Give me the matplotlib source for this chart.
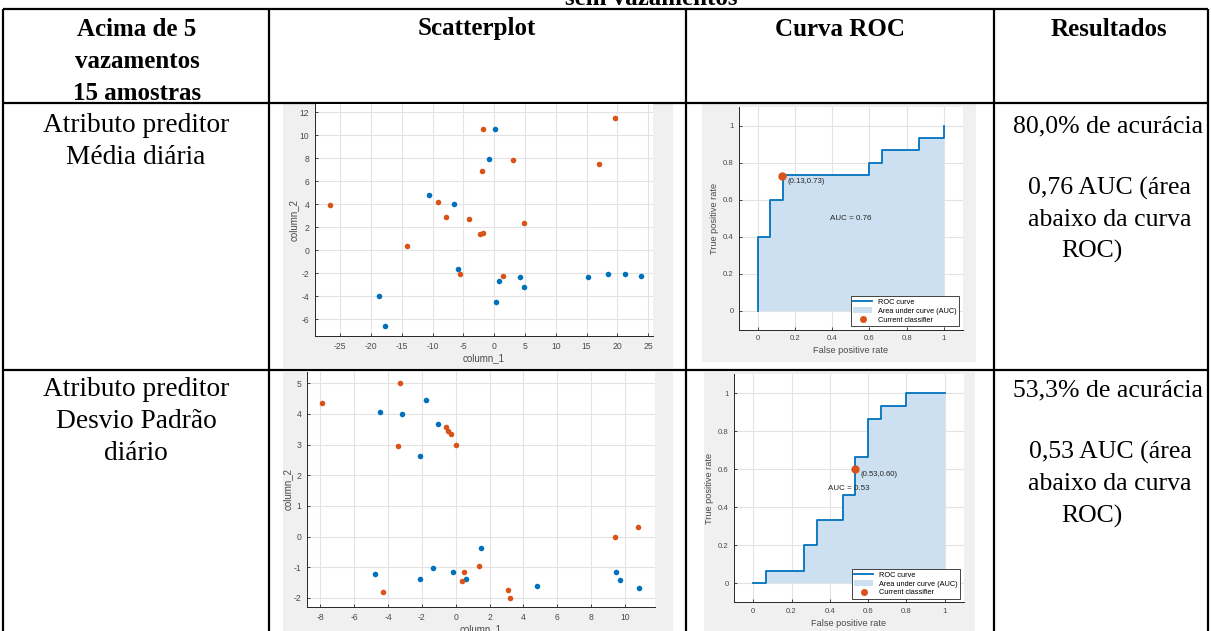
import numpy as np
import matplotlib
matplotlib.use("Agg")
import matplotlib.pyplot as plt
from matplotlib.lines import Line2D
from matplotlib.patches import Patch, Rectangle

plt.rcParams["axes.unicode_minus"] = False

W, H = 1211, 631

""" DATA """
# scatter, media diaria (column_1, column_2)
media_orange_x = [-26.6, -14.2, -9.1, -7.9, -4.1, -5.6, -2.3, -1.8, -2.0, -1.8, 3.1, 4.8, 1.5, 17.0, 19.7]
media_orange_y = [3.9, 0.4, 4.2, 2.9, 2.7, -2.1, 1.4, 1.5, 6.9, 10.5, 7.8, 2.4, -2.2, 7.5, 11.5]
media_blue_x = [-10.6, -6.6, -5.9, -18.7, -17.8, -0.8, 0.1, 0.8, 0.3, 4.2, 4.9, 15.3, 18.5, 21.3, 23.9]
media_blue_y = [4.8, 4.0, -1.6, -4.0, -6.6, 7.9, 10.5, -2.7, -4.5, -2.3, -3.2, -2.3, -2.1, -2.1, -2.2]

# scatter, desvio padrao diario
desvio_orange_x = [-7.9, -3.3, -3.4, -0.6, -0.45, -0.3, 0.0, -4.3, 0.4, 0.5, 1.4, 3.1, 3.2, 9.4, 10.8]
desvio_orange_y = [4.36, 5.0, 2.95, 3.57, 3.45, 3.36, 2.99, -1.82, -1.45, -1.17, -0.96, -1.73, -1.99, -0.03, 0.32]
desvio_blue_x = [-4.45, -3.17, -1.75, -1.04, -2.1, -4.79, -2.14, -1.33, -0.17, 0.62, 1.51, 4.82, 9.5, 9.69, 10.86]
desvio_blue_y = [4.08, 4.01, 4.45, 3.66, 2.63, -1.21, -1.40, -1.03, -1.17, -1.37, -0.38, -1.63, -1.17, -1.43, -1.67]

# ROC curves (15 positivos / 15 negativos)
roc1_fpr = [0, 0, 1/15, 1/15, 2/15, 2/15, 9/15, 9/15, 10/15, 10/15, 13/15, 13/15, 1, 1]
roc1_tpr = [0, 6/15, 6/15, 9/15, 9/15, 11/15, 11/15, 12/15, 12/15, 13/15, 13/15, 14/15, 14/15, 1]
roc1_point = (0.13, 0.73)
roc1_auc = 0.76

roc2_fpr = [0, 1/15, 1/15, 4/15, 4/15, 5/15, 5/15, 7/15, 7/15, 8/15, 8/15, 9/15, 9/15, 10/15, 10/15, 12/15, 12/15, 1]
roc2_tpr = [0, 0, 1/15, 1/15, 3/15, 3/15, 5/15, 5/15, 7/15, 7/15, 10/15, 10/15, 13/15, 13/15, 14/15, 14/15, 1, 1]
roc2_point = (0.53, 0.60)
roc2_auc = 0.53

BLUE = "#0072BD"
ORANGE = "#D95319"
FILL = "#cce0f1"
IMG_BG = "#f0f0f0"
TXT = "#4a4a4a"


def rect(x0, y0, x1, y1):
    # pixel box (top-left origin) -> figure fraction
    return [x0 / W, 1 - y1 / H, (x1 - x0) / W, (y1 - y0) / H]


fig = plt.figure(figsize=(W / 100, H / 100), dpi=100)
fig.patch.set_facecolor("white")

# table canvas in pixel coordinates
tab = fig.add_axes([0, 0, 1, 1])
tab.set_xlim(0, W)
tab.set_ylim(H, 0)
tab.axis("off")

# gray image backgrounds
for (x0, y0, x1, y1) in [(283, 104, 673, 368), (702, 104, 976, 362),
                         (283, 372, 673, 631), (704, 372, 975, 631)]:
    tab.add_patch(Rectangle((x0, y0), x1 - x0, y1 - y0, facecolor=IMG_BG, edgecolor="none"))

lw = 1.6
for x in [3, 269, 686, 994, 1208]:
    tab.plot([x, x], [9, H + 5], color="black", lw=lw, solid_capstyle="butt")
for y in [9, 103, 370]:
    tab.plot([3, 1208], [y, y], color="black", lw=lw, solid_capstyle="butt")

serif = "Liberation Serif"
# caption of the table, cut at the top edge as in the original page
tab.text(651, 5, "sem vazamentos", ha="center", va="baseline", fontsize=18,
         fontweight="bold", family=serif)

for txt, y in [("Acima de 5", 30), ("vazamentos", 62), ("15 amostras", 93)]:
    tab.text(137, y, txt, ha="center", va="center", fontsize=18, fontweight="bold", family=serif)
for txt, x in [("Scatterplot", 477), ("Curva ROC", 840), ("Resultados", 1109)]:
    tab.text(x, 29, txt, ha="center", va="center", fontsize=18, fontweight="bold", family=serif)

for txt, y in [("Atributo preditor", 126), ("Média diária", 158)]:
    tab.text(136, y, txt, ha="center", va="center", fontsize=19.7, family=serif)
for txt, y in [("Atributo preditor", 390), ("Desvio Padrão", 422), ("diário", 454)]:
    tab.text(136, y, txt, ha="center", va="center", fontsize=19.7, family=serif)

for txt, x, y in [("80,0% de acurácia", 1108, 126), ("0,76 AUC (área", 1110, 188),
                  ("abaixo da curva", 1110, 220), ("ROC)", 1092, 251),
                  ("53,3% de acurácia", 1108, 390), ("0,53 AUC (área", 1110, 452),
                  ("abaixo da curva", 1110, 484), ("ROC)", 1092, 516)]:
    tab.text(x, y, txt, ha="center", va="center", fontsize=18.5, family=serif)

sans = "Liberation Sans"


def style_axes(ax, tick_fs):
    ax.set_facecolor("white")
    for s in ["top", "right"]:
        ax.spines[s].set_visible(False)
    for s in ["left", "bottom"]:
        ax.spines[s].set_color("#262626")
        ax.spines[s].set_linewidth(0.7)
    ax.grid(True, color="#e3e3e3", lw=0.8)
    ax.set_axisbelow(True)
    ax.tick_params(direction="in", length=2.5, width=0.6, colors="#262626",
                   labelcolor=TXT, labelsize=tick_fs, pad=4)
    for lab in ax.get_xticklabels() + ax.get_yticklabels():
        lab.set_family(sans)


""" SCATTERPLOTS """
sc1 = fig.add_axes(rect(315, 104, 653, 336))
sc1.scatter(media_blue_x, media_blue_y, s=16, color=BLUE, zorder=3, linewidths=0)
sc1.scatter(media_orange_x, media_orange_y, s=16, color=ORANGE, zorder=3, linewidths=0)
sc1.set_xlim(-29.1, 25.8)
sc1.set_ylim(-7.45, 12.7)
sc1.set_xticks(np.arange(-25, 26, 5))
sc1.set_yticks(np.arange(-6, 13, 2))

sc2 = fig.add_axes(rect(307, 372, 655, 607))
sc2.scatter(desvio_blue_x, desvio_blue_y, s=16, color=BLUE, zorder=3, linewidths=0)
sc2.scatter(desvio_orange_x, desvio_orange_y, s=16, color=ORANGE, zorder=3, linewidths=0)
sc2.set_xlim(-8.79, 11.78)
sc2.set_ylim(-2.3, 5.37)
sc2.set_xticks(np.arange(-8, 11, 2))
sc2.set_yticks(np.arange(-2, 6, 1))

for ax in [sc1, sc2]:
    style_axes(ax, 6.2)
    ax.set_xlabel("column_1", fontsize=7, family=sans, color=TXT, labelpad=2)
    ax.set_ylabel("column_2", fontsize=7, family=sans, color=TXT, labelpad=1)

""" ROC CURVES """
roc_ticks = [0, 0.2, 0.4, 0.6, 0.8, 1]
roc_labels = ["0", "0.2", "0.4", "0.6", "0.8", "1"]


def draw_roc(ax, fpr, tpr, point, auc):
    ax.fill_between(fpr, tpr, 0, color=FILL, lw=0, zorder=2)
    ax.plot(fpr, tpr, color=BLUE, lw=1.3, zorder=3)
    ax.plot(point[0], point[1], "o", color=ORANGE, ms=5, zorder=4)
    ax.annotate(f"({point[0]:.2f},{point[1]:.2f})", point, xytext=(4, -4),
                textcoords="offset points", fontsize=5.6, family=sans, color="#262626",
                va="center", ha="left", zorder=5)
    ax.text(0.5, 0.5, f"AUC = {auc:.2f}", ha="center", va="center", fontsize=5.8,
            family=sans, color="#262626", zorder=5)
    ax.set_xlim(-0.1, 1.1)
    ax.set_ylim(-0.1, 1.1)
    ax.set_xticks(roc_ticks)
    ax.set_xticklabels(roc_labels)
    ax.set_yticks(roc_ticks)
    ax.set_yticklabels(roc_labels)
    style_axes(ax, 5.6)
    ax.set_xlabel("False positive rate", fontsize=6.6, family=sans, color=TXT, labelpad=3)
    ax.set_ylabel("True positive rate", fontsize=6.6, family=sans, color=TXT, labelpad=3)
    handles = [Line2D([], [], color=BLUE, lw=1.3),
               Patch(facecolor=FILL, edgecolor="none"),
               Line2D([], [], color=ORANGE, marker="o", ls="none", ms=4)]
    leg = ax.legend(handles, ["ROC curve", "Area under curve (AUC)", "Current classifier"],
                    loc="lower right", prop={"family": sans, "size": 5.3}, fancybox=False,
                    framealpha=1, edgecolor="#262626", borderpad=0.3, labelspacing=0.15,
                    handlelength=2.6, handleheight=0.9, borderaxespad=0.5)
    leg.get_frame().set_linewidth(0.6)
    leg.set_zorder(6)


roc1 = fig.add_axes(rect(739.1, 107.2, 962.6, 329.5))
draw_roc(roc1, roc1_fpr, roc1_tpr, roc1_point, roc1_auc)

roc2 = fig.add_axes(rect(734.2, 374.3, 963.8, 602.3))
draw_roc(roc2, roc2_fpr, roc2_tpr, roc2_point, roc2_auc)

fig.savefig("out.png", dpi=100)
